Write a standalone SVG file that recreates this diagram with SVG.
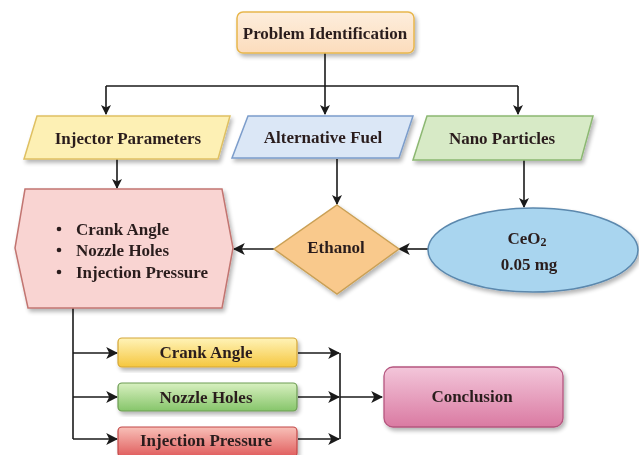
<svg xmlns="http://www.w3.org/2000/svg" width="639" height="455" viewBox="0 0 639 455">
<style>
.t{font-family:"Liberation Serif","Times New Roman",serif;font-weight:bold;font-size:17px;fill:#2b1f1f;text-anchor:middle;dominant-baseline:central}
.tl{font-family:"Liberation Serif","Times New Roman",serif;font-weight:bold;font-size:17px;fill:#2b1f1f}
.c{fill:none;stroke:#1a1a1a;stroke-width:1.6}
</style>
<defs>
<marker id="ah" viewBox="0 0 10 10" refX="9" refY="5" markerWidth="10" markerHeight="10" markerUnits="userSpaceOnUse" orient="auto">
<path d="M0,0 L10,5 L0,10 L2.5,5 z" fill="#1a1a1a"/>
</marker>
<marker id="ahb" viewBox="0 0 10 10" refX="9" refY="5" markerWidth="12" markerHeight="12" markerUnits="userSpaceOnUse" orient="auto">
<path d="M0,0 L10,5 L0,10 L2.5,5 z" fill="#1a1a1a"/>
</marker>
<filter id="sh" x="-10%" y="-10%" width="125%" height="130%">
<feGaussianBlur in="SourceAlpha" stdDeviation="2"/>
<feOffset dx="2" dy="3" result="b"/>
<feComponentTransfer><feFuncA type="linear" slope="0.3"/></feComponentTransfer>
<feMerge><feMergeNode/><feMergeNode in="SourceGraphic"/></feMerge>
</filter>
<linearGradient id="gPI" x1="0" y1="0" x2="0" y2="1"><stop offset="0" stop-color="#fdeedd"/><stop offset="1" stop-color="#fcdcbc"/></linearGradient>
<linearGradient id="gY" x1="0" y1="0" x2="0" y2="1"><stop offset="0" stop-color="#fff3b8"/><stop offset="1" stop-color="#f5c73f"/></linearGradient>
<linearGradient id="gG" x1="0" y1="0" x2="0" y2="1"><stop offset="0" stop-color="#d8f0c0"/><stop offset="1" stop-color="#86c56a"/></linearGradient>
<linearGradient id="gR" x1="0" y1="0" x2="0" y2="1"><stop offset="0" stop-color="#f8c0b8"/><stop offset="1" stop-color="#e05c5c"/></linearGradient>
<linearGradient id="gC" x1="0" y1="0" x2="0" y2="1"><stop offset="0" stop-color="#f3c6da"/><stop offset="1" stop-color="#da7aa2"/></linearGradient>
</defs>

<g id="connectors">
<path class="c" d="M325,53 V86"/>
<path class="c" d="M106,86 H518"/>
<path class="c" d="M106,86 V114" marker-end="url(#ah)"/>
<path class="c" d="M325,86 V114" marker-end="url(#ah)"/>
<path class="c" d="M518,86 V114" marker-end="url(#ah)"/>
<path class="c" d="M117,159 V188" marker-end="url(#ah)"/>
<path class="c" d="M337,159 V204" marker-end="url(#ah)"/>
<path class="c" d="M524,160 V207" marker-end="url(#ah)"/>
<path class="c" d="M428,249 H399" marker-end="url(#ahb)"/>
<path class="c" d="M274,249 H234" marker-end="url(#ahb)"/>
<path class="c" d="M73,308 V439"/>
<path class="c" d="M73,353 H117" marker-end="url(#ahb)"/>
<path class="c" d="M73,397 H117" marker-end="url(#ahb)"/>
<path class="c" d="M73,439 H117" marker-end="url(#ahb)"/>
<path class="c" d="M298,353 H339" marker-end="url(#ahb)"/>
<path class="c" d="M298,397 H339" marker-end="url(#ahb)"/>
<path class="c" d="M298,439 H339" marker-end="url(#ahb)"/>
<path class="c" d="M340,353 V439"/>
<path class="c" d="M340,397 H382" marker-end="url(#ahb)"/>
</g>

<g id="problem" filter="url(#sh)">
<rect x="237" y="12" width="177" height="41" rx="6" fill="url(#gPI)" stroke="#e7b64c" stroke-width="1.5"/>
<text class="t" x="325" y="33">Problem Identification</text>
</g>

<g id="injector" filter="url(#sh)">
<polygon points="37,116 230,116 218,159 24,159" fill="#fdf0b4" stroke="#dfc062" stroke-width="1.5"/>
<text class="t" x="128" y="138">Injector Parameters</text>
</g>

<g id="altfuel" filter="url(#sh)">
<polygon points="248,116 413,116 399,158 232,158" fill="#dbe7f6" stroke="#7c9dcb" stroke-width="1.5"/>
<text class="t" x="323" y="137">Alternative Fuel</text>
</g>

<g id="nano" filter="url(#sh)">
<polygon points="427,116 593,116 581,160 413,160" fill="#d7eac6" stroke="#8cb872" stroke-width="1.5"/>
<text class="t" x="502" y="138">Nano Particles</text>
</g>

<g id="params" filter="url(#sh)">
<polygon points="25,189 222,189 233,248 222,308 28,308 15,248" fill="#f9d4d2" stroke="#c27571" stroke-width="1.5"/>
<circle cx="59" cy="229" r="2.3" fill="#2b1f1f"/>
<circle cx="59" cy="250" r="2.3" fill="#2b1f1f"/>
<circle cx="59" cy="272" r="2.3" fill="#2b1f1f"/>
<text class="tl" x="76" y="235">Crank Angle</text>
<text class="tl" x="76" y="256">Nozzle Holes</text>
<text class="tl" x="76" y="278">Injection Pressure</text>
</g>

<g id="ethanol" filter="url(#sh)">
<polygon points="337,205 399,249 337,294 274,249" fill="#f9c98c" stroke="#caa055" stroke-width="1.5"/>
<text class="t" x="336" y="247">Ethanol</text>
</g>

<g id="ceo2" filter="url(#sh)">
<ellipse cx="533" cy="250" rx="105" ry="42" fill="#a9d5ef" stroke="#5b88ad" stroke-width="1.5"/>
<text class="t" x="527" y="238">CeO<tspan font-size="12" dy="4">2</tspan></text>
<text class="t" x="529" y="264">0.05 mg</text>
</g>

<g id="crank" filter="url(#sh)">
<rect x="118" y="338" width="179" height="29" rx="4" fill="url(#gY)" stroke="#d4a636" stroke-width="1.2"/>
<text class="t" x="206" y="352">Crank Angle</text>
</g>

<g id="nozzle" filter="url(#sh)">
<rect x="118" y="383" width="179" height="28" rx="4" fill="url(#gG)" stroke="#6c9b52" stroke-width="1.2"/>
<text class="t" x="206" y="397">Nozzle Holes</text>
</g>

<g id="injection" filter="url(#sh)">
<rect x="118" y="427" width="179" height="30" rx="4" fill="url(#gR)" stroke="#c24646" stroke-width="1.2"/>
<text class="t" x="206" y="440">Injection Pressure</text>
</g>

<g id="conclusion" filter="url(#sh)">
<rect x="384" y="367" width="179" height="60" rx="9" fill="url(#gC)" stroke="#b5567f" stroke-width="1.3"/>
<text class="t" x="472" y="396">Conclusion</text>
</g>
</svg>
